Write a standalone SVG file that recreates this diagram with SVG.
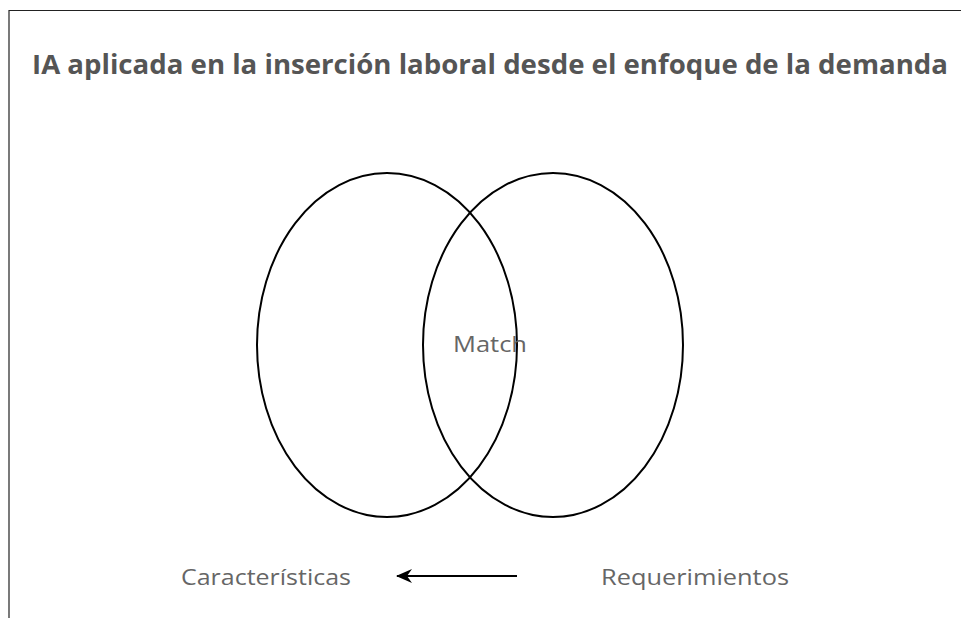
<svg xmlns="http://www.w3.org/2000/svg" width="961" height="618" viewBox="0 0 961 618">
<style>
.t{font-family:"Open Sans","Liberation Sans",sans-serif;fill:#666}
.title{font-family:"Open Sans","Liberation Sans",sans-serif;font-weight:700;fill:#555;font-size:26px}
.c{fill:none;stroke:#000;stroke-width:2}
</style>
<defs>
<marker id="ah" viewBox="0 0 16 16" refX="15" refY="8" markerWidth="16" markerHeight="16" markerUnits="userSpaceOnUse" orient="auto">
<path d="M0,1 L16,8 L0,15 L5,8 Z" fill="#000"/>
</marker>
</defs>
<rect width="961" height="618" fill="#fff"/>
<path d="M9,618 V10.5 H961" fill="none" stroke="#222" stroke-width="1.2"/>
<text class="title" x="32" y="74" textLength="916" lengthAdjust="spacingAndGlyphs">IA aplicada en la inserción laboral desde el enfoque de la demanda</text>
<g id="left"><ellipse class="c" cx="387" cy="345" rx="130" ry="172"/></g>
<g id="right"><ellipse class="c" cx="553" cy="345" rx="130" ry="172"/></g>
<g id="match"><text class="t" x="453" y="352" font-size="21" textLength="74" lengthAdjust="spacingAndGlyphs">Match</text></g>
<g id="caracteristicas"><text class="t" x="181" y="585" font-size="21" textLength="170" lengthAdjust="spacingAndGlyphs">Características</text></g>
<g id="requerimientos"><text class="t" x="601" y="585" font-size="21" textLength="188" lengthAdjust="spacingAndGlyphs">Requerimientos</text></g>
<g id="connectors"><line x1="517" y1="576" x2="397" y2="576" stroke="#000" stroke-width="2" marker-end="url(#ah)"/></g>
</svg>
